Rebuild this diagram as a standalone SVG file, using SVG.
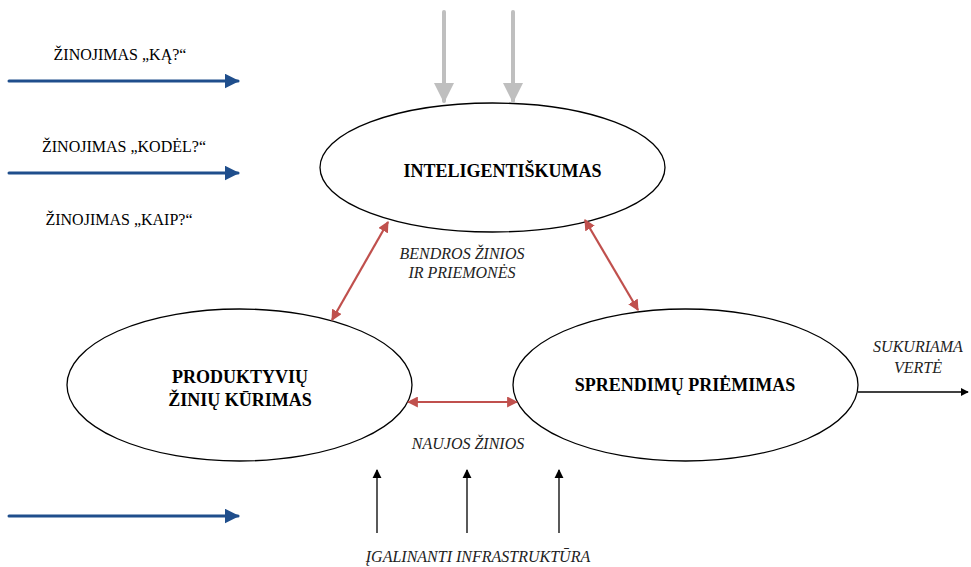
<svg xmlns="http://www.w3.org/2000/svg" width="971" height="567" viewBox="0 0 971 567">
  <defs>
    <marker id="head-blue" viewBox="0 0 10 10" refX="9" refY="5" markerWidth="5" markerHeight="5" orient="auto" markerUnits="strokeWidth">
      <path d="M0,0 L10,5 L0,10 z" fill="#1F4E8C"/>
    </marker>
    <marker id="head-gray" viewBox="0 0 10 10" refX="9" refY="5" markerWidth="5" markerHeight="5" orient="auto" markerUnits="strokeWidth">
      <path d="M0,0 L10,5 L0,10 z" fill="#BFBFBF"/>
    </marker>
    <marker id="head-red" viewBox="0 0 10 10" refX="9" refY="5" markerWidth="5" markerHeight="5" orient="auto-start-reverse" markerUnits="strokeWidth">
      <path d="M0,0 L10,5 L0,10 z" fill="#C0504D"/>
    </marker>
    <marker id="head-black" viewBox="0 0 10 10" refX="9" refY="5" markerWidth="8" markerHeight="8" orient="auto" markerUnits="userSpaceOnUse">
      <path d="M0,0 L10,5 L0,10 z" fill="#000"/>
    </marker>
    <marker id="head-dark" viewBox="0 0 10 10" refX="9" refY="5" markerWidth="9" markerHeight="10" orient="auto" markerUnits="userSpaceOnUse">
      <path d="M0,0 L10,5 L0,10 z" fill="#000"/>
    </marker>
  </defs>
  <style>
    .node ellipse { fill: #fff; stroke: #000; stroke-width: 1.3; }
    .title { font-weight: bold; font-size: 18px; fill: #000; text-anchor: middle; }
    .note { font-style: italic; font-size: 16px; fill: #222; text-anchor: middle; }
    .label { font-size: 16px; fill: #000; text-anchor: middle; }
    .blue { stroke: #1F4E8C; stroke-width: 3; fill: none; stroke-linecap: round; marker-end: url(#head-blue); }
    .gray { stroke: #BFBFBF; stroke-width: 4; fill: none; stroke-linecap: round; marker-end: url(#head-gray); }
    .red { stroke: #C0504D; stroke-width: 2.2; fill: none; marker-start: url(#head-red); marker-end: url(#head-red); }
    .black { stroke: #000; stroke-width: 1.3; fill: none; marker-end: url(#head-black); }
    .up { stroke: #000; stroke-width: 1.3; fill: none; marker-end: url(#head-dark); }
  </style>

  <rect width="971" height="567" fill="#fff"/>

  <g font-family="'Liberation Serif', 'DejaVu Serif', serif">
  <!-- knowledge types on the left -->
  <g id="knowledge-labels">
    <text class="label" x="120" y="60">ŽINOJIMAS „KĄ?“</text>
    <text class="label" x="124" y="152">ŽINOJIMAS „KODĖL?“</text>
    <text class="label" x="119" y="225">ŽINOJIMAS „KAIP?“</text>
  </g>

  <!-- nodes -->
  <g id="node-inteligentiskumas" class="node">
    <ellipse cx="492.5" cy="167.5" rx="172.5" ry="64.5"/>
    <text class="title" x="502.5" y="177" font-size="19">INTELIGENTIŠKUMAS</text>
  </g>
  <g id="node-produktyviu" class="node">
    <ellipse cx="239.5" cy="385" rx="172.5" ry="76"/>
    <text class="title" x="240" y="383">PRODUKTYVIŲ</text>
    <text class="title" x="240" y="406">ŽINIŲ KŪRIMAS</text>
  </g>
  <g id="node-sprendimu" class="node">
    <ellipse cx="685.5" cy="385" rx="172.5" ry="76"/>
    <text class="title" x="685" y="391">SPRENDIMŲ PRIĖMIMAS</text>
  </g>

  <!-- connectors -->
  <g id="connectors">
    <line class="blue" x1="9" y1="81" x2="238" y2="81"/>
    <line class="blue" x1="9" y1="173" x2="238" y2="173"/>
    <line class="blue" x1="9" y1="516" x2="238" y2="516"/>

    <line class="gray" x1="444" y1="12" x2="444" y2="101"/>
    <line class="gray" x1="513" y1="12" x2="513" y2="101"/>

    <line class="red" x1="388" y1="222" x2="332" y2="320"/>
    <line class="red" x1="585" y1="220" x2="638" y2="310"/>
    <line class="red" x1="408" y1="402" x2="517" y2="402"/>

    <line class="black" x1="858" y1="392" x2="968" y2="392"/>
    <line class="up" x1="377" y1="533" x2="377" y2="470"/>
    <line class="up" x1="467" y1="533" x2="467" y2="470"/>
    <line class="up" x1="559" y1="533" x2="559" y2="470" stroke="#444"/>
  </g>

  <!-- connector annotations -->
  <g id="annotations">
    <text class="note" x="462" y="259">BENDROS ŽINIOS</text>
    <text class="note" x="462" y="278">IR PRIEMONĖS</text>
    <text class="note" x="468" y="449">NAUJOS ŽINIOS</text>
    <text class="note" x="918" y="352" font-size="15.5">SUKURIAMA</text>
    <text class="note" x="918" y="373" font-size="15.5">VERTĖ</text>
    <text class="note" x="478" y="562" font-size="17.8">ĮGALINANTI INFRASTRUKTŪRA</text>
  </g>
  </g>
</svg>
